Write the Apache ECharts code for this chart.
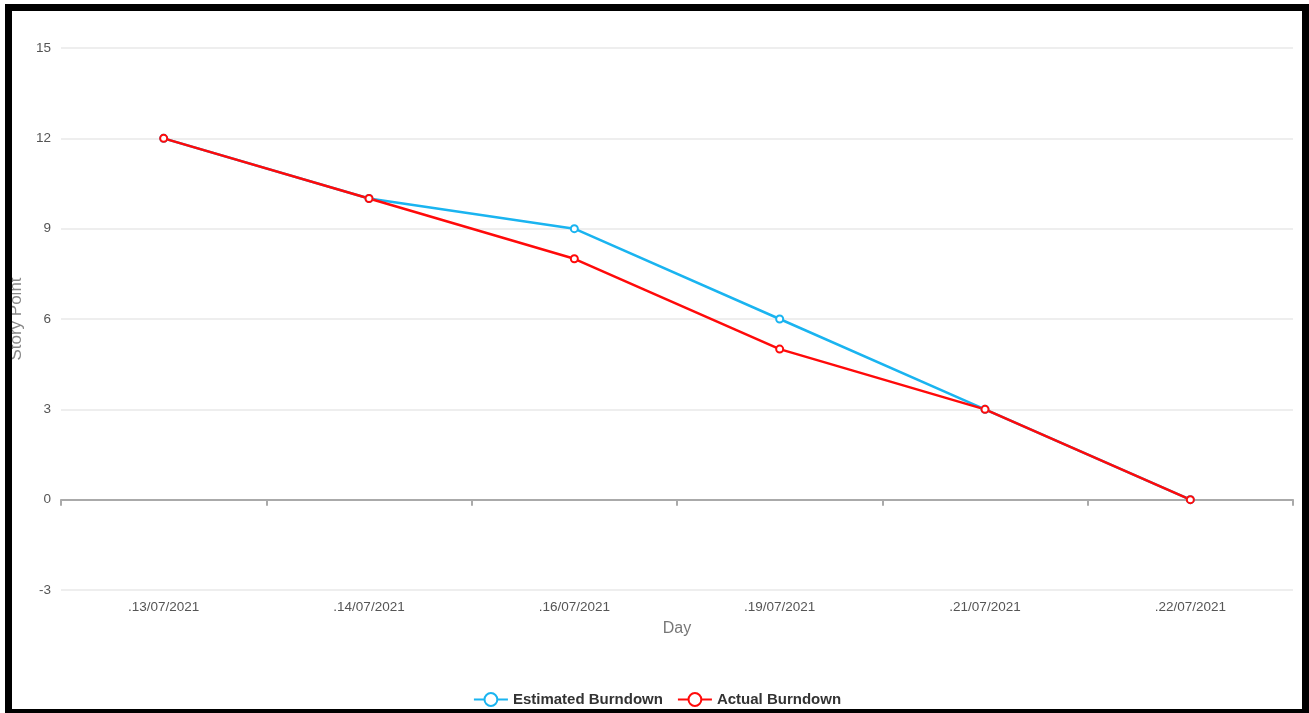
<!DOCTYPE html>
<html><head><meta charset="utf-8">
<script src="https://cdn.jsdelivr.net/npm/echarts@6/dist/echarts.min.js"></script>
<style>
html,body{margin:0;padding:0;background:#fff;width:1309px;height:713px;overflow:hidden;}
#frame{position:absolute;left:5px;top:4px;width:1304px;height:712px;box-sizing:border-box;border:7px solid #000;background:#fff;}
#chart{position:absolute;left:0;top:0;width:1290px;height:698px;}
</style></head>
<body>
<div id="frame"><div id="chart"></div></div>
<script>
const categories = ['.13/07/2021', '.14/07/2021', '.16/07/2021', '.19/07/2021', '.21/07/2021', '.22/07/2021'];
const estimated = [12, 10, 9, 6, 3, 0];
const actual = [12, 10, 8, 5, 3, 0];
const seriesNames = ['Estimated Burndown', 'Actual Burndown'];

const chart = echarts.init(document.getElementById('chart'));
const font = 'Liberation Sans, Arial, sans-serif';
chart.setOption({
  animation: false,
  textStyle: { fontFamily: font },
  grid: { left: 49, right: 9, top: 37, bottom: 119, containLabel: false, outerBoundsMode: 'none' },
  legend: {
    top: 676, left: 'center', itemGap: 14, itemWidth: 34, itemHeight: 16,
    textStyle: { color: '#333', fontSize: 15, fontWeight: 'bold', fontFamily: font },
    data: seriesNames
  },
  xAxis: [{
    type: 'category', data: categories, boundaryGap: true,
    name: 'Day', nameLocation: 'middle', nameGap: 31,
    nameTextStyle: { color: '#777', fontSize: 16 },
    axisLine: { show: false, onZero: false },
    axisTick: { show: false },
    axisLabel: { color: '#555', fontSize: 13.5, margin: 10 },
    splitLine: { show: false }
  }, {
    type: 'category', data: categories, boundaryGap: true, position: 'bottom',
    axisLine: { show: true, onZero: true, lineStyle: { color: '#aaa', width: 2 } },
    axisTick: { show: true, length: 6, lineStyle: { color: '#aaa', width: 2 } },
    axisLabel: { show: false },
    splitLine: { show: false }
  }],
  yAxis: {
    type: 'value', min: -3, max: 15, interval: 3,
    name: 'Story Point', nameLocation: 'middle', nameGap: 36,
    nameTextStyle: { color: '#888', fontSize: 17 },
    axisLine: { show: false }, axisTick: { show: false },
    axisLabel: { color: '#555', fontSize: 13.5, margin: 10 },
    splitLine: { lineStyle: { color: '#eee', width: 2 } }
  },
  series: [{
    name: seriesNames[0], type: 'line', data: estimated,
    symbol: 'emptyCircle', symbolSize: 7,
    lineStyle: { color: '#1ab4f0', width: 2.5 },
    itemStyle: { color: '#1ab4f0', borderWidth: 2 }
  }, {
    name: seriesNames[1], type: 'line', data: actual,
    symbol: 'emptyCircle', symbolSize: 7,
    lineStyle: { color: '#ff0a0a', width: 2.5 },
    itemStyle: { color: '#ff0a0a', borderWidth: 2 }
  }]
});
</script>
</body></html>
